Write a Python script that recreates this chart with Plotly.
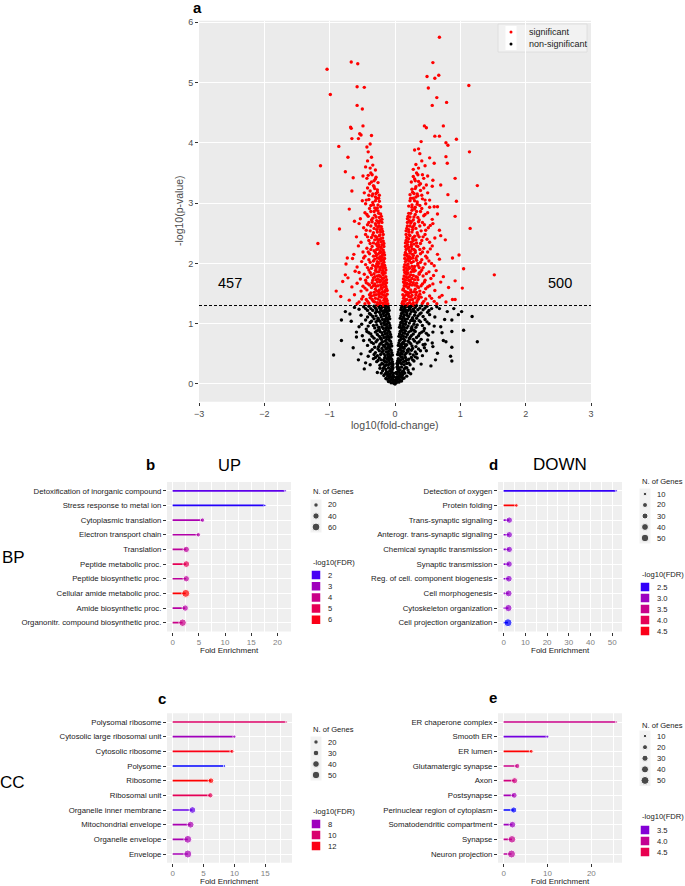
import math
import plotly.graph_objects as go

W, H = 685, 886
FONT = "Liberation Sans, Arial, sans-serif"

# ------------------------------------------------------------------ data
p_threshold = 0.05
n_down_label = "457"
n_up_label = "500"

sig_down = [
    (-0.67, 5.34), (-0.57, 5.31), (-1.04, 5.22), (-0.58, 4.93), (-0.47, 4.92), (-0.99, 4.80),
    (-0.58, 4.62), (-0.50, 4.56), (-0.68, 4.26), (-0.67, 4.24), (-0.49, 4.28), (-0.54, 4.15),
    (-0.52, 4.13), (-0.36, 4.12), (-0.66, 4.07), (-0.56, 4.07), (-0.86, 3.94), (-0.38, 3.98),
    (-1.14, 3.62), (-0.85, 2.57), (-1.18, 2.33), (-0.90, 1.54), (-0.76, 1.81), (-0.73, 2.09),
    (-0.75, 1.99), (-0.76, 3.52), (-0.72, 3.76), (-0.41, 3.85), (-0.43, 3.93), (-0.70, 2.90),
    (-0.66, 3.20), (-0.62, 2.70), (-0.80, 1.70), (-0.83, 1.45), (-0.64, 3.42),
    (-0.11, 1.33), (-0.13, 1.41), (-0.15, 1.36), (-0.17, 1.47), (-0.19, 1.34), (-0.21, 1.44),
    (-0.23, 1.38), (-0.25, 1.49), (-0.27, 1.35), (-0.30, 1.42), (-0.33, 1.37), (-0.36, 1.46),
    (-0.40, 1.34), (-0.44, 1.40), (-0.49, 1.45), (-0.55, 1.36), (-0.62, 1.48), (-0.70, 1.39),
    (-0.12, 1.49), (-0.16, 1.42), (-0.24, 1.32), (-0.29, 1.48), (-0.38, 1.43), (-0.46, 1.33),
    (-0.12, 1.55), (-0.14, 1.62), (-0.16, 1.52), (-0.18, 1.68), (-0.20, 1.58), (-0.22, 1.64),
    (-0.25, 1.53), (-0.27, 1.69), (-0.30, 1.57), (-0.33, 1.63), (-0.37, 1.51), (-0.41, 1.66),
    (-0.46, 1.59), (-0.52, 1.54), (-0.58, 1.67), (-0.66, 1.61), (-0.15, 1.66), (-0.21, 1.51),
    (-0.29, 1.62), (-0.35, 1.68), (-0.43, 1.56),
    (-0.13, 1.73), (-0.15, 1.84), (-0.17, 1.76), (-0.19, 1.88), (-0.21, 1.71), (-0.24, 1.80),
    (-0.26, 1.74), (-0.28, 1.86), (-0.31, 1.78), (-0.34, 1.72), (-0.38, 1.85), (-0.42, 1.77),
    (-0.47, 1.82), (-0.53, 1.74), (-0.61, 1.87), (-0.18, 1.81), (-0.23, 1.89), (-0.32, 1.83),
    (-0.72, 1.76),
    (-0.15, 1.93), (-0.17, 2.02), (-0.19, 1.96), (-0.21, 2.07), (-0.23, 1.91), (-0.25, 2.00),
    (-0.27, 2.09), (-0.30, 1.95), (-0.33, 2.04), (-0.36, 1.92), (-0.40, 2.06), (-0.45, 1.98),
    (-0.51, 2.03), (-0.58, 1.94), (-0.20, 2.10), (-0.28, 1.99), (-0.65, 2.08),
    (-0.16, 2.14), (-0.18, 2.22), (-0.20, 2.12), (-0.22, 2.27), (-0.24, 2.17), (-0.26, 2.24),
    (-0.29, 2.13), (-0.32, 2.21), (-0.35, 2.28), (-0.39, 2.16), (-0.43, 2.25), (-0.49, 2.19),
    (-0.56, 2.29), (-0.21, 2.19), (-0.27, 2.29), (-0.63, 2.15),
    (-0.17, 2.33), (-0.19, 2.42), (-0.21, 2.36), (-0.23, 2.47), (-0.25, 2.31), (-0.27, 2.40),
    (-0.30, 2.45), (-0.33, 2.34), (-0.36, 2.43), (-0.40, 2.38), (-0.45, 2.48), (-0.52, 2.35),
    (-0.24, 2.39), (-0.59, 2.44),
    (-0.19, 2.53), (-0.21, 2.61), (-0.23, 2.56), (-0.25, 2.67), (-0.27, 2.52), (-0.29, 2.63),
    (-0.32, 2.58), (-0.35, 2.69), (-0.38, 2.54), (-0.42, 2.64), (-0.48, 2.59), (-0.26, 2.60),
    (-0.55, 2.66),
    (-0.20, 2.73), (-0.22, 2.82), (-0.24, 2.76), (-0.26, 2.87), (-0.28, 2.71), (-0.31, 2.80),
    (-0.34, 2.75), (-0.37, 2.86), (-0.41, 2.78), (-0.46, 2.84), (-0.53, 2.74), (-0.29, 2.89),
    (-0.22, 2.94), (-0.24, 3.03), (-0.26, 2.97), (-0.28, 3.08), (-0.31, 2.92), (-0.34, 3.01),
    (-0.37, 2.96), (-0.40, 3.06), (-0.45, 2.99), (-0.50, 3.04), (-0.30, 3.10),
    (-0.24, 3.13), (-0.27, 3.22), (-0.29, 3.16), (-0.32, 3.27), (-0.35, 3.12), (-0.38, 3.20),
    (-0.42, 3.25), (-0.47, 3.17), (-0.33, 3.29),
    (-0.26, 3.34), (-0.29, 3.43), (-0.32, 3.37), (-0.35, 3.47), (-0.39, 3.32), (-0.43, 3.41),
    (-0.49, 3.45), (-0.37, 3.50),
    (-0.30, 3.55), (-0.34, 3.63), (-0.38, 3.58), (-0.42, 3.70), (-0.36, 3.76), (-0.45, 3.60),
]

sig_down_core = [
    (-0.12, 1.38), (-0.14, 1.33), (-0.14, 1.46), (-0.17, 1.39), (-0.18, 1.31), (-0.20, 1.49),
    (-0.22, 1.35), (-0.24, 1.45), (-0.26, 1.41), (-0.28, 1.31), (-0.31, 1.36), (-0.32, 1.47),
    (-0.35, 1.40), (-0.39, 1.48), (-0.42, 1.37), (-0.51, 1.41), (-0.58, 1.33),
    (-0.13, 1.58), (-0.13, 1.68), (-0.15, 1.55), (-0.17, 1.61), (-0.19, 1.53), (-0.19, 1.65),
    (-0.21, 1.60), (-0.23, 1.69), (-0.24, 1.56), (-0.26, 1.63), (-0.28, 1.54), (-0.31, 1.66),
    (-0.32, 1.52), (-0.36, 1.60), (-0.39, 1.64), (-0.44, 1.68), (-0.49, 1.62),
    (-0.14, 1.78), (-0.14, 1.89), (-0.16, 1.71), (-0.17, 1.85), (-0.19, 1.75), (-0.20, 1.84),
    (-0.22, 1.78), (-0.23, 1.72), (-0.25, 1.86), (-0.27, 1.79), (-0.29, 1.73), (-0.30, 1.88),
    (-0.33, 1.76), (-0.36, 1.81), (-0.40, 1.89), (-0.45, 1.72), (-0.55, 1.85),
    (-0.16, 1.97), (-0.16, 2.08), (-0.18, 1.92), (-0.18, 2.05), (-0.20, 1.99), (-0.22, 1.94),
    (-0.22, 2.04), (-0.24, 2.08), (-0.26, 1.95), (-0.27, 2.03), (-0.29, 1.91), (-0.31, 2.07),
    (-0.34, 1.97), (-0.38, 2.02), (-0.42, 1.93), (-0.48, 2.09),
    (-0.17, 2.18), (-0.17, 2.28), (-0.19, 2.15), (-0.21, 2.25), (-0.23, 2.11), (-0.23, 2.21),
    (-0.25, 2.28), (-0.27, 2.15), (-0.28, 2.23), (-0.30, 2.18), (-0.33, 2.12), (-0.37, 2.23),
    (-0.41, 2.19), (-0.46, 2.12),
    (-0.18, 2.37), (-0.18, 2.48), (-0.20, 2.31), (-0.22, 2.41), (-0.24, 2.46), (-0.26, 2.35),
    (-0.28, 2.43), (-0.29, 2.32), (-0.31, 2.39), (-0.34, 2.47), (-0.38, 2.33), (-0.42, 2.44),
    (-0.20, 2.57), (-0.20, 2.68), (-0.22, 2.52), (-0.24, 2.62), (-0.26, 2.69), (-0.28, 2.56),
    (-0.30, 2.66), (-0.33, 2.51), (-0.37, 2.62), (-0.40, 2.68), (-0.44, 2.55),
    (-0.21, 2.78), (-0.23, 2.71), (-0.25, 2.83), (-0.27, 2.92), (-0.29, 2.77), (-0.32, 2.86),
    (-0.33, 2.97), (-0.36, 2.72), (-0.39, 2.91), (-0.43, 2.81),
    (-0.25, 3.08), (-0.27, 3.18), (-0.30, 3.04), (-0.31, 3.24), (-0.34, 3.15), (-0.36, 3.35),
    (-0.40, 3.13), (-0.41, 3.46), (-0.44, 3.05), (-0.30, 3.40),
]

sig_up = [
    (0.68, 5.75), (0.58, 5.33), (0.49, 5.10), (0.67, 5.12), (0.61, 5.07), (1.13, 4.95),
    (0.51, 4.91), (0.64, 4.75), (0.79, 4.67), (0.57, 4.62), (0.45, 4.28), (0.48, 4.25),
    (0.74, 4.28), (0.61, 4.11), (0.68, 4.11), (0.94, 4.06), (0.78, 4.00), (0.81, 3.96),
    (1.14, 3.85), (1.26, 3.29), (1.15, 2.58), (1.52, 1.81), (0.98, 2.14), (1.05, 1.91),
    (1.03, 1.59), (0.94, 3.03), (0.92, 3.41), (0.92, 2.78), (0.78, 3.77), (0.80, 3.66),
    (0.70, 3.30), (0.81, 3.14), (0.65, 2.94), (0.77, 2.39), (0.88, 2.09), (0.92, 1.71),
    (0.92, 1.40), (0.40, 4.02), (0.36, 3.90),
    (0.11, 1.34), (0.13, 1.42), (0.15, 1.37), (0.17, 1.48), (0.19, 1.33), (0.21, 1.45),
    (0.23, 1.39), (0.26, 1.47), (0.28, 1.35), (0.31, 1.43), (0.34, 1.38), (0.38, 1.49),
    (0.42, 1.34), (0.47, 1.41), (0.53, 1.46), (0.60, 1.37), (0.68, 1.44), (0.78, 1.36),
    (0.12, 1.48), (0.18, 1.40), (0.25, 1.32), (0.36, 1.45), (0.50, 1.33), (0.88, 1.40),
    (0.12, 1.56), (0.14, 1.63), (0.16, 1.53), (0.18, 1.67), (0.20, 1.59), (0.23, 1.65),
    (0.25, 1.52), (0.28, 1.68), (0.31, 1.57), (0.34, 1.62), (0.38, 1.54), (0.42, 1.66),
    (0.47, 1.58), (0.53, 1.63), (0.61, 1.55), (0.70, 1.69), (0.15, 1.67), (0.22, 1.51),
    (0.30, 1.64), (0.44, 1.52), (0.82, 1.60),
    (0.13, 1.74), (0.15, 1.85), (0.17, 1.77), (0.19, 1.89), (0.21, 1.72), (0.24, 1.81),
    (0.26, 1.75), (0.29, 1.87), (0.32, 1.78), (0.35, 1.73), (0.39, 1.86), (0.43, 1.79),
    (0.48, 1.83), (0.55, 1.75), (0.63, 1.88), (0.18, 1.82), (0.27, 1.90), (0.37, 1.84),
    (0.74, 1.78),
    (0.14, 1.94), (0.16, 2.03), (0.18, 1.97), (0.20, 2.08), (0.22, 1.92), (0.25, 2.01),
    (0.27, 2.09), (0.30, 1.95), (0.33, 2.05), (0.37, 1.93), (0.41, 2.06), (0.46, 1.99),
    (0.52, 2.04), (0.60, 1.96), (0.68, 2.07), (0.23, 2.10), (0.35, 2.00),
    (0.15, 2.14), (0.17, 2.23), (0.19, 2.12), (0.21, 2.27), (0.23, 2.17), (0.26, 2.24),
    (0.28, 2.13), (0.31, 2.21), (0.35, 2.28), (0.39, 2.16), (0.44, 2.25), (0.50, 2.19),
    (0.57, 2.29), (0.65, 2.15), (0.24, 2.20), (0.33, 2.29),
    (0.16, 2.34), (0.18, 2.43), (0.20, 2.36), (0.22, 2.47), (0.25, 2.31), (0.27, 2.41),
    (0.30, 2.45), (0.33, 2.34), (0.37, 2.44), (0.41, 2.38), (0.46, 2.48), (0.53, 2.35),
    (0.61, 2.42), (0.28, 2.38), (0.70, 2.46),
    (0.17, 2.54), (0.19, 2.62), (0.21, 2.56), (0.24, 2.67), (0.26, 2.52), (0.29, 2.63),
    (0.32, 2.58), (0.36, 2.69), (0.40, 2.54), (0.45, 2.64), (0.51, 2.59), (0.58, 2.66),
    (0.27, 2.60), (0.68, 2.55),
    (0.19, 2.74), (0.21, 2.83), (0.23, 2.77), (0.26, 2.88), (0.28, 2.72), (0.31, 2.81),
    (0.35, 2.76), (0.39, 2.86), (0.44, 2.79), (0.50, 2.84), (0.57, 2.73), (0.30, 2.90),
    (0.65, 2.82),
    (0.21, 2.95), (0.23, 3.04), (0.26, 2.97), (0.28, 3.08), (0.31, 2.93), (0.34, 3.02),
    (0.38, 2.96), (0.42, 3.07), (0.47, 2.99), (0.53, 3.05), (0.60, 2.94), (0.32, 3.10),
    (0.23, 3.14), (0.26, 3.23), (0.29, 3.16), (0.32, 3.27), (0.35, 3.12), (0.39, 3.21),
    (0.44, 3.25), (0.50, 3.17), (0.57, 3.28), (0.37, 3.30),
    (0.25, 3.35), (0.28, 3.44), (0.31, 3.37), (0.35, 3.47), (0.39, 3.32), (0.44, 3.41),
    (0.50, 3.45), (0.58, 3.38), (0.33, 3.50),
    (0.28, 3.56), (0.32, 3.64), (0.36, 3.58), (0.41, 3.70), (0.46, 3.62), (0.53, 3.75),
    (0.38, 3.82), (0.60, 3.66), (0.30, 3.88),
]

sig_up_core = [
    (0.12, 1.37), (0.14, 1.32), (0.14, 1.45), (0.16, 1.40), (0.18, 1.31), (0.20, 1.48),
    (0.22, 1.35), (0.24, 1.44), (0.27, 1.40), (0.29, 1.31), (0.32, 1.48), (0.33, 1.35),
    (0.36, 1.41), (0.40, 1.44), (0.44, 1.37), (0.56, 1.42), (0.64, 1.33), (0.72, 1.47),
    (0.13, 1.58), (0.13, 1.69), (0.15, 1.54), (0.17, 1.62), (0.19, 1.52), (0.19, 1.66),
    (0.21, 1.61), (0.24, 1.69), (0.24, 1.56), (0.26, 1.64), (0.29, 1.53), (0.33, 1.67),
    (0.33, 1.52), (0.36, 1.60), (0.40, 1.63), (0.45, 1.69), (0.50, 1.61), (0.58, 1.66),
    (0.14, 1.79), (0.14, 1.89), (0.16, 1.72), (0.17, 1.86), (0.19, 1.76), (0.20, 1.84),
    (0.22, 1.78), (0.23, 1.72), (0.25, 1.86), (0.28, 1.80), (0.30, 1.73), (0.31, 1.88),
    (0.34, 1.77), (0.37, 1.82), (0.41, 1.89), (0.46, 1.72), (0.52, 1.86), (0.59, 1.80),
    (0.15, 1.98), (0.15, 2.08), (0.17, 1.92), (0.18, 2.05), (0.20, 1.99), (0.21, 1.94),
    (0.22, 2.04), (0.24, 2.08), (0.26, 1.95), (0.28, 2.03), (0.29, 1.91), (0.32, 2.08),
    (0.35, 1.97), (0.39, 2.02), (0.43, 1.93), (0.49, 2.09), (0.56, 2.00),
    (0.16, 2.18), (0.16, 2.28), (0.18, 2.15), (0.20, 2.25), (0.22, 2.11), (0.22, 2.21),
    (0.25, 2.28), (0.27, 2.15), (0.29, 2.23), (0.31, 2.18), (0.34, 2.12), (0.38, 2.23),
    (0.42, 2.19), (0.47, 2.12), (0.54, 2.24),
    (0.17, 2.38), (0.17, 2.48), (0.19, 2.31), (0.21, 2.41), (0.23, 2.46), (0.25, 2.35),
    (0.28, 2.43), (0.29, 2.32), (0.32, 2.39), (0.35, 2.47), (0.39, 2.33), (0.43, 2.44),
    (0.49, 2.40),
    (0.18, 2.58), (0.19, 2.68), (0.21, 2.52), (0.23, 2.62), (0.25, 2.69), (0.27, 2.56),
    (0.30, 2.66), (0.34, 2.51), (0.38, 2.62), (0.42, 2.68), (0.47, 2.55), (0.54, 2.63),
    (0.20, 2.78), (0.22, 2.71), (0.24, 2.83), (0.26, 2.93), (0.29, 2.77), (0.33, 2.86),
    (0.34, 2.98), (0.37, 2.72), (0.41, 2.91), (0.46, 2.81), (0.53, 2.93),
    (0.24, 3.08), (0.27, 3.18), (0.30, 3.04), (0.31, 3.24), (0.34, 3.15), (0.36, 3.36),
    (0.41, 3.13), (0.42, 3.47), (0.46, 3.05), (0.30, 3.40), (0.48, 3.30),
]

ns_down = [
    (-0.94, 0.48), (-0.82, 0.72), (-0.82, 1.06), (-0.67, 1.04), (-0.76, 1.20), (-0.69, 1.16),
    (-0.59, 0.86), (-0.59, 0.78), (-0.64, 0.60), (-0.56, 0.40), (-0.47, 0.25), (-0.55, 0.95),
    (-0.62, 1.27), (-0.52, 0.50), (-0.45, 0.35),
    (0.00, 0.00), (-0.01, 0.03), (-0.03, 0.07), (-0.05, 0.11), (-0.08, 0.05), (-0.11, 0.13),
    (-0.14, 0.09), (-0.02, 0.12), (-0.06, 0.02), (-0.17, 0.14),
    (-0.02, 0.18), (-0.04, 0.24), (-0.07, 0.17), (-0.10, 0.27), (-0.13, 0.20), (-0.16, 0.29),
    (-0.19, 0.22), (-0.23, 0.26), (-0.27, 0.19), (-0.05, 0.29), (-0.12, 0.16),
    (-0.03, 0.33), (-0.05, 0.41), (-0.08, 0.35), (-0.11, 0.44), (-0.14, 0.31), (-0.17, 0.39),
    (-0.20, 0.34), (-0.24, 0.43), (-0.28, 0.37), (-0.33, 0.42), (-0.38, 0.32), (-0.07, 0.44),
    (-0.15, 0.37),
    (-0.04, 0.48), (-0.06, 0.56), (-0.09, 0.50), (-0.12, 0.59), (-0.15, 0.47), (-0.18, 0.55),
    (-0.22, 0.49), (-0.26, 0.58), (-0.30, 0.52), (-0.35, 0.57), (-0.41, 0.46), (-0.10, 0.54),
    (-0.20, 0.59),
    (-0.05, 0.63), (-0.07, 0.71), (-0.10, 0.65), (-0.13, 0.74), (-0.16, 0.62), (-0.19, 0.70),
    (-0.23, 0.66), (-0.27, 0.73), (-0.31, 0.61), (-0.36, 0.69), (-0.42, 0.64), (-0.48, 0.72),
    (-0.12, 0.68), (-0.21, 0.74),
    (-0.06, 0.78), (-0.08, 0.86), (-0.11, 0.80), (-0.14, 0.89), (-0.17, 0.77), (-0.20, 0.85),
    (-0.24, 0.79), (-0.28, 0.88), (-0.32, 0.76), (-0.37, 0.83), (-0.43, 0.87), (-0.50, 0.80),
    (-0.15, 0.83), (-0.25, 0.90),
    (-0.07, 0.93), (-0.09, 1.01), (-0.12, 0.95), (-0.15, 1.04), (-0.18, 0.92), (-0.21, 1.00),
    (-0.25, 0.94), (-0.29, 1.03), (-0.33, 0.97), (-0.38, 1.02), (-0.44, 0.91), (-0.51, 0.99),
    (-0.16, 0.98), (-0.27, 1.05),
    (-0.08, 1.08), (-0.10, 1.16), (-0.13, 1.10), (-0.16, 1.19), (-0.19, 1.07), (-0.22, 1.15),
    (-0.26, 1.09), (-0.30, 1.18), (-0.34, 1.12), (-0.39, 1.17), (-0.45, 1.06), (-0.52, 1.14),
    (-0.17, 1.13), (-0.28, 1.20),
    (-0.09, 1.22), (-0.11, 1.29), (-0.14, 1.24), (-0.17, 1.30), (-0.20, 1.21), (-0.24, 1.27),
    (-0.28, 1.23), (-0.32, 1.29), (-0.37, 1.25), (-0.42, 1.22), (-0.48, 1.28), (-0.55, 1.24),
    (-0.21, 1.26),
]

ns_down_core = [
    (-0.02, 0.01), (-0.01, 0.06), (-0.03, 0.03), (-0.04, 0.09), (-0.06, 0.07), (-0.07, 0.13),
    (-0.09, 0.10), (-0.10, 0.04), (-0.12, 0.08), (-0.03, 0.15), (-0.05, 0.20), (-0.08, 0.22),
    (-0.09, 0.15), (-0.11, 0.19), (-0.14, 0.24), (-0.15, 0.17), (-0.18, 0.26), (-0.21, 0.18),
    (-0.06, 0.25), (-0.03, 0.27),
    (-0.04, 0.31), (-0.04, 0.37), (-0.06, 0.34), (-0.09, 0.39), (-0.10, 0.32), (-0.12, 0.41),
    (-0.13, 0.36), (-0.16, 0.43), (-0.18, 0.33), (-0.21, 0.40), (-0.23, 0.31), (-0.26, 0.39),
    (-0.30, 0.44), (-0.09, 0.44),
    (-0.05, 0.52), (-0.07, 0.47), (-0.08, 0.58), (-0.11, 0.49), (-0.13, 0.53), (-0.14, 0.58),
    (-0.17, 0.50), (-0.20, 0.53), (-0.24, 0.55), (-0.27, 0.47), (-0.32, 0.49), (-0.38, 0.54),
    (-0.06, 0.67), (-0.08, 0.62), (-0.09, 0.73), (-0.11, 0.61), (-0.14, 0.66), (-0.15, 0.71),
    (-0.18, 0.64), (-0.21, 0.68), (-0.25, 0.62), (-0.29, 0.70), (-0.33, 0.67), (-0.39, 0.73),
    (-0.07, 0.82), (-0.09, 0.77), (-0.10, 0.88), (-0.12, 0.84), (-0.13, 0.78), (-0.16, 0.87),
    (-0.19, 0.81), (-0.22, 0.76), (-0.23, 0.87), (-0.27, 0.82), (-0.30, 0.86), (-0.35, 0.79),
    (-0.40, 0.85),
    (-0.08, 0.97), (-0.10, 0.92), (-0.11, 1.03), (-0.13, 0.99), (-0.14, 0.93), (-0.17, 1.02),
    (-0.20, 0.95), (-0.23, 1.04), (-0.24, 0.91), (-0.28, 0.98), (-0.31, 0.93), (-0.36, 1.04),
    (-0.41, 0.96),
    (-0.09, 1.12), (-0.11, 1.07), (-0.12, 1.18), (-0.14, 1.14), (-0.15, 1.07), (-0.18, 1.17),
    (-0.21, 1.11), (-0.24, 1.19), (-0.25, 1.06), (-0.29, 1.13), (-0.32, 1.08), (-0.37, 1.15),
    (-0.42, 1.11),
    (-0.10, 1.26), (-0.12, 1.21), (-0.13, 1.30), (-0.15, 1.27), (-0.16, 1.22), (-0.19, 1.28),
    (-0.22, 1.23), (-0.26, 1.30), (-0.30, 1.26), (-0.34, 1.22), (-0.40, 1.29), (-0.45, 1.25),
]

ns_up = [
    (1.26, 0.70), (1.18, 1.12), (1.05, 0.89), (1.02, 1.20), (0.97, 1.15), (0.87, 1.06),
    (0.87, 0.87), (0.87, 0.61), (0.85, 0.46), (0.87, 0.38), (0.78, 0.70), (0.74, 0.72),
    (0.65, 0.51), (0.58, 0.62), (0.76, 1.07), (0.80, 1.20), (0.70, 0.95), (0.68, 1.25),
    (0.72, 0.85), (0.62, 0.40), (0.55, 0.30), (0.90, 1.25),
    (0.01, 0.04), (0.03, 0.08), (0.05, 0.12), (0.08, 0.06), (0.11, 0.14), (0.14, 0.10),
    (0.02, 0.11), (0.06, 0.03), (0.18, 0.13),
    (0.02, 0.19), (0.04, 0.25), (0.07, 0.18), (0.10, 0.28), (0.13, 0.21), (0.16, 0.27),
    (0.20, 0.23), (0.24, 0.17), (0.28, 0.25), (0.05, 0.28), (0.12, 0.16),
    (0.03, 0.34), (0.05, 0.42), (0.08, 0.36), (0.11, 0.45), (0.14, 0.32), (0.18, 0.40),
    (0.21, 0.35), (0.25, 0.44), (0.29, 0.38), (0.34, 0.43), (0.40, 0.33), (0.07, 0.40),
    (0.16, 0.38),
    (0.04, 0.49), (0.06, 0.57), (0.09, 0.51), (0.12, 0.60), (0.15, 0.48), (0.19, 0.56),
    (0.23, 0.50), (0.27, 0.59), (0.31, 0.53), (0.36, 0.58), (0.42, 0.47), (0.48, 0.55),
    (0.10, 0.55), (0.21, 0.58),
    (0.05, 0.64), (0.07, 0.72), (0.10, 0.66), (0.13, 0.75), (0.16, 0.63), (0.20, 0.71),
    (0.24, 0.67), (0.28, 0.74), (0.32, 0.62), (0.37, 0.70), (0.43, 0.65), (0.50, 0.73),
    (0.57, 0.68), (0.12, 0.69), (0.22, 0.75),
    (0.06, 0.79), (0.08, 0.87), (0.11, 0.81), (0.14, 0.90), (0.17, 0.78), (0.21, 0.86),
    (0.25, 0.80), (0.29, 0.89), (0.33, 0.77), (0.38, 0.84), (0.44, 0.88), (0.51, 0.81),
    (0.58, 0.86), (0.15, 0.84), (0.26, 0.90),
    (0.07, 0.94), (0.09, 1.02), (0.12, 0.96), (0.15, 1.05), (0.18, 0.93), (0.22, 1.01),
    (0.26, 0.95), (0.30, 1.04), (0.34, 0.98), (0.39, 1.03), (0.45, 0.92), (0.52, 1.00),
    (0.60, 0.96), (0.16, 0.99), (0.28, 1.05),
    (0.08, 1.09), (0.10, 1.17), (0.13, 1.11), (0.16, 1.20), (0.19, 1.08), (0.23, 1.16),
    (0.27, 1.10), (0.31, 1.19), (0.35, 1.13), (0.40, 1.18), (0.46, 1.07), (0.53, 1.15),
    (0.61, 1.11), (0.18, 1.14), (0.29, 1.21),
    (0.09, 1.23), (0.11, 1.30), (0.14, 1.25), (0.17, 1.29), (0.20, 1.22), (0.24, 1.28),
    (0.28, 1.24), (0.33, 1.30), (0.38, 1.26), (0.43, 1.23), (0.49, 1.29), (0.56, 1.25),
    (0.64, 1.28), (0.22, 1.26),
]

ns_up_core = [
    (0.02, 0.02), (0.01, 0.07), (0.03, 0.05), (0.04, 0.10), (0.06, 0.08), (0.07, 0.14),
    (0.09, 0.11), (0.10, 0.05), (0.12, 0.09), (0.03, 0.16), (0.05, 0.21), (0.08, 0.23),
    (0.09, 0.16), (0.11, 0.20), (0.14, 0.25), (0.15, 0.18), (0.18, 0.27), (0.21, 0.19),
    (0.06, 0.26), (0.03, 0.28),
    (0.04, 0.32), (0.04, 0.38), (0.06, 0.35), (0.09, 0.40), (0.10, 0.33), (0.12, 0.42),
    (0.13, 0.37), (0.16, 0.44), (0.18, 0.34), (0.21, 0.41), (0.23, 0.32), (0.27, 0.40),
    (0.31, 0.45), (0.09, 0.45),
    (0.05, 0.53), (0.07, 0.48), (0.08, 0.59), (0.11, 0.50), (0.13, 0.54), (0.14, 0.59),
    (0.17, 0.51), (0.20, 0.54), (0.25, 0.56), (0.28, 0.48), (0.33, 0.50), (0.39, 0.55),
    (0.45, 0.60),
    (0.06, 0.68), (0.08, 0.63), (0.09, 0.74), (0.11, 0.62), (0.14, 0.67), (0.15, 0.72),
    (0.18, 0.65), (0.22, 0.69), (0.26, 0.63), (0.30, 0.71), (0.34, 0.68), (0.40, 0.74),
    (0.46, 0.66),
    (0.07, 0.83), (0.09, 0.78), (0.10, 0.89), (0.12, 0.85), (0.13, 0.79), (0.16, 0.88),
    (0.19, 0.82), (0.23, 0.77), (0.24, 0.88), (0.28, 0.83), (0.31, 0.87), (0.36, 0.80),
    (0.41, 0.86), (0.48, 0.84),
    (0.08, 0.98), (0.10, 0.93), (0.11, 1.04), (0.13, 1.00), (0.14, 0.94), (0.17, 1.03),
    (0.20, 0.96), (0.24, 1.05), (0.25, 0.92), (0.29, 0.99), (0.32, 0.94), (0.37, 1.05),
    (0.42, 0.97), (0.49, 1.03),
    (0.09, 1.13), (0.11, 1.08), (0.12, 1.19), (0.14, 1.15), (0.15, 1.08), (0.18, 1.18),
    (0.21, 1.12), (0.25, 1.20), (0.26, 1.07), (0.30, 1.14), (0.33, 1.09), (0.38, 1.16),
    (0.43, 1.12), (0.50, 1.19),
    (0.10, 1.27), (0.12, 1.22), (0.13, 1.31), (0.15, 1.28), (0.16, 1.23), (0.19, 1.29),
    (0.23, 1.24), (0.27, 1.30), (0.31, 1.27), (0.35, 1.23), (0.41, 1.30), (0.46, 1.26),
    (0.52, 1.22),
]

# GO enrichment panels
bp_up_terms = ["Detoxification of inorganic compound", "Stress response to metal ion",
               "Cytoplasmic translation", "Electron transport chain", "Translation",
               "Peptide metabolic proc.", "Peptide biosynthetic proc.",
               "Cellular amide metabolic proc.", "Amide biosynthetic proc.",
               "Organonitr. compound biosynthetic proc."]
bp_up_fe = [21.5, 17.6, 5.7, 4.9, 2.6, 2.6, 2.6, 2.5, 2.4, 1.9]
bp_up_genes = [5, 6, 20, 20, 40, 45, 40, 62, 40, 55]
bp_up_fdr = [2.15, 1.85, 3.25, 3.4, 3.65, 5.0, 3.65, 6.2, 3.5, 4.0]

bp_down_terms = ["Detection of oxygen", "Protein folding", "Trans-synaptic signaling",
                 "Anterogr. trans-synaptic signaling", "Chemical synaptic transmission",
                 "Synaptic transmission", "Reg. of cell. component biogenesis",
                 "Cell morphogenesis", "Cytoskeleton organization",
                 "Cell projection organization"]
bp_down_fe = [51.9, 5.9, 2.6, 2.6, 2.6, 2.5, 2.4, 2.3, 2.2, 2.0]
bp_down_genes = [3, 10, 35, 35, 34, 36, 38, 40, 45, 55]
bp_down_fdr = [2.5, 4.6, 2.9, 2.9, 2.9, 2.9, 2.9, 2.95, 2.95, 2.45]

cc_up_terms = ["Polysomal ribosome", "Cytosolic large ribosomal unit", "Cytosolic ribosome",
               "Polysome", "Ribosome", "Ribosomal unit", "Organelle inner membrane",
               "Mitochondrial envelope", "Organelle envelope", "Envelope"]
cc_up_fe = [18.4, 10.0, 9.6, 8.4, 6.2, 6.1, 3.2, 2.9, 2.45, 2.45]
cc_up_genes = [7, 12, 18, 8, 30, 27, 40, 42, 52, 54]
cc_up_fdr = [10.2, 8.06, 12.0, 6.46, 12.2, 10.6, 7.0, 8.3, 8.3, 8.2]

cc_down_terms = ["ER chaperone complex", "Smooth ER", "ER lumen", "Glutamatergic synapse",
                 "Axon", "Postsynapse", "Perinuclear region of cytoplasm",
                 "Somatodendritic compartment", "Synapse", "Neuron projection"]
cc_down_fe = [25.7, 10.0, 6.3, 3.1, 2.5, 2.4, 2.3, 2.0, 1.9, 1.8]
cc_down_genes = [4, 7, 12, 22, 30, 28, 30, 35, 45, 50]
cc_down_fdr = [4.07, 3.43, 4.93, 4.07, 4.15, 3.73, 3.21, 3.67, 4.02, 3.93]

# ------------------------------------------------------------------ helpers
def px_x(p):
    return p / W


def px_y(p):
    return 1 - p / H


def _lin(c):
    c = c / 255.0
    return c / 12.92 if c <= 0.04045 else ((c + 0.055) / 1.055) ** 2.4


def _gam(c):
    c = max(0.0, min(1.0, c))
    c = 12.92 * c if c <= 0.0031308 else 1.055 * c ** (1 / 2.4) - 0.055
    return int(round(c * 255))


def rgb2lab(rgb):
    r, g, b = [_lin(v) for v in rgb]
    X = (0.4124 * r + 0.3576 * g + 0.1805 * b) / 0.95047
    Y = 0.2126 * r + 0.7152 * g + 0.0722 * b
    Z = (0.0193 * r + 0.1192 * g + 0.9505 * b) / 1.08883
    f = lambda t: t ** (1 / 3) if t > 0.008856 else 7.787 * t + 16 / 116
    fx, fy, fz = f(X), f(Y), f(Z)
    return (116 * fy - 16, 500 * (fx - fy), 200 * (fy - fz))


def lab2rgb(L, a, b):
    fy = (L + 16) / 116
    fx = fy + a / 500
    fz = fy - b / 200
    finv = lambda t: t ** 3 if t ** 3 > 0.008856 else (t - 16 / 116) / 7.787
    X = finv(fx) * 0.95047
    Y = finv(fy)
    Z = finv(fz) * 1.08883
    r = 3.2406 * X - 1.5372 * Y - 0.4986 * Z
    g = -0.9689 * X + 1.8758 * Y + 0.0415 * Z
    bb = 0.0557 * X - 0.2040 * Y + 1.0570 * Z
    return "rgb(%d,%d,%d)" % (_gam(r), _gam(g), _gam(bb))


LOW = rgb2lab((0, 0, 255))
HIGH = rgb2lab((255, 0, 0))


def grad(v, lo, hi):
    t = (v - lo) / (hi - lo)
    t = max(0.0, min(1.0, t))
    return lab2rgb(*[LOW[i] + (HIGH[i] - LOW[i]) * t for i in range(3)])


def dia(n, lo, hi):
    t = (math.sqrt(n) - math.sqrt(lo)) / (math.sqrt(hi) - math.sqrt(lo))
    return max(1.8, 2.2 + t * 5.8)


fig = go.Figure()
layout = dict(width=W, height=H, margin=dict(l=0, r=0, t=0, b=0),
              paper_bgcolor="white", plot_bgcolor="white", showlegend=False,
              font=dict(family=FONT, color="#333333"))
shapes = []
annotations = []


def ann(text, x, y, size, bold=False, xanchor="center", color="#1a1a1a", angle=0,
        xref="paper", yref="paper"):
    if xref == "paper":
        x = px_x(x)
    if yref == "paper":
        y = px_y(y)
    annotations.append(dict(text=("<b>%s</b>" % text) if bold else text, x=x, y=y,
                            xref=xref, yref=yref, xanchor=xanchor, yanchor="middle",
                            showarrow=False, textangle=angle,
                            font=dict(size=size, color=color, family=FONT)))


def panel_bg(k, color):
    shapes.append(dict(type="rect", xref="x%s domain" % k, yref="y%s domain" % k,
                       x0=0, x1=1, y0=0, y1=1, fillcolor=color, line=dict(width=0),
                       layer="below"))


axis_id = [6]


def legend_axis(key_x, top, n, step, width=11):
    k = axis_id[0]
    axis_id[0] += 1
    layout["xaxis%d" % k] = dict(domain=[px_x(key_x - width / 2), px_x(key_x + width / 2)],
                                 range=[-1, 1], visible=False, fixedrange=True,
                                 anchor="y%d" % k)
    layout["yaxis%d" % k] = dict(domain=[px_y(top + n * step), px_y(top)],
                                 range=[n - 0.5, -0.5], visible=False, fixedrange=True,
                                 anchor="x%d" % k)
    return k


# ------------------------------------------------------------------ volcano
thr = -math.log10(p_threshold)
layout["xaxis"] = dict(domain=[px_x(199), px_x(591)], range=[-3, 3], dtick=1, tick0=0,
                       showgrid=True, gridcolor="white", gridwidth=1.1, zeroline=False,
                       ticks="outside", ticklen=3, tickcolor="#333333", tickwidth=1,
                       tickfont=dict(size=9, color="#4D4D4D"), anchor="y", automargin=False)
layout["yaxis"] = dict(domain=[px_y(401.7), px_y(20.7)], range=[-0.294, 6.025], dtick=1,
                       tick0=0, showgrid=True, gridcolor="white", gridwidth=1.1,
                       zeroline=False, ticks="outside", ticklen=3, tickcolor="#333333",
                       tickwidth=1, tickfont=dict(size=9, color="#4D4D4D"), anchor="x",
                       automargin=False)
panel_bg("", "#EBEBEB")

ns_pts = ns_down + ns_down_core + ns_up + ns_up_core
sig_pts = sig_down + sig_down_core + sig_up + sig_up_core
fig.add_trace(go.Scatter(x=[p[0] for p in ns_pts], y=[p[1] for p in ns_pts], mode="markers",
                         marker=dict(color="black", size=3.4), xaxis="x", yaxis="y",
                         hoverinfo="skip"))
fig.add_trace(go.Scatter(x=[p[0] for p in sig_pts], y=[p[1] for p in sig_pts], mode="markers",
                         marker=dict(color="#FF0000", size=3.4), xaxis="x", yaxis="y",
                         hoverinfo="skip"))
shapes.append(dict(type="line", xref="x domain", yref="y", x0=0, x1=1, y0=thr, y1=thr,
                   line=dict(color="black", width=1, dash="3px,2px")))
ann(n_down_label, -2.52, 1.67, 14.5, xref="x", yref="y", color="black")
ann(n_up_label, 2.53, 1.67, 14.5, xref="x", yref="y", color="black")
ann("a", 197, 8, 15, bold=True, color="black")
ann("-log10(p-value)", 179, 211, 10.5, angle=-90, color="#4D4D4D")
ann("log10(fold-change)", 395, 425, 10.5, color="#4D4D4D")

# volcano legend
shapes.append(dict(type="rect", xref="paper", yref="paper", x0=px_x(498), x1=px_x(587),
                   y0=px_y(52), y1=px_y(24), fillcolor="#F2F2F2",
                   line=dict(color="#DADADA", width=0.8), layer="between"))
vk = legend_axis(511, 26, 2, 12)
fig.add_trace(go.Scatter(x=[0, 0], y=[0, 1], mode="markers",
                         marker=dict(color=["#FF0000", "black"], size=3),
                         xaxis="x%d" % vk, yaxis="y%d" % vk, hoverinfo="skip"))
ann("significant", 527, 32, 9, xanchor="left", color="#1a1a1a")
ann("non-significant", 527, 44, 9, xanchor="left", color="#1a1a1a")

# ------------------------------------------------------------------ lollipops
panels = [
    dict(k=2, terms=bp_up_terms, fe=bp_up_fe, genes=bp_up_genes, fdr=bp_up_fdr, dtick=5,
         box=(167, 291, 482, 631.5), sizes=[20, 40, 60], colors=[2, 3, 4, 5, 6],
         clabels=["2", "3", "4", "5", "6"], legx=311,
         s_title=492, s_top=499.5, s_step=11, c_title=562, c_top=569.4, c_step=11.2,
         titley=650, glo=5, ghi=62, flo=1.8, fhi=6.2),
    dict(k=3, terms=bp_down_terms, fe=bp_down_fe, genes=bp_down_genes, fdr=bp_down_fdr,
         dtick=10, box=(498, 622, 482, 631.5), sizes=[10, 20, 30, 40, 50],
         colors=[2.5, 3.0, 3.5, 4.0, 4.5], clabels=["2.5", "3.0", "3.5", "4.0", "4.5"],
         legx=640, s_title=481, s_top=488.5, s_step=11, c_title=574, c_top=581.5, c_step=11,
         titley=650, glo=3, ghi=55, flo=2.45, fhi=4.6),
    dict(k=4, terms=cc_up_terms, fe=cc_up_fe, genes=cc_up_genes, fdr=cc_up_fdr, dtick=5,
         box=(167, 292, 713.2, 862.8), sizes=[20, 30, 40, 50], colors=[8, 10, 12],
         clabels=["8", "10", "12"], legx=311,
         s_title=729, s_top=736.5, s_step=11, c_title=811, c_top=818.5, c_step=11,
         titley=881, glo=7, ghi=54, flo=6.46, fhi=12.2),
    dict(k=5, terms=cc_down_terms, fe=cc_down_fe, genes=cc_down_genes, fdr=cc_down_fdr,
         dtick=10, box=(498, 622, 713.2, 862.8), sizes=[10, 20, 30, 40, 50],
         colors=[3.5, 4.0, 4.5], clabels=["3.5", "4.0", "4.5"], legx=640,
         s_title=725, s_top=730.5, s_step=11.1, c_title=816, c_top=824.5, c_step=11,
         titley=881, glo=4, ghi=50, flo=3.21, fhi=4.93),
]

for P in panels:
    k = P["k"]
    n = len(P["terms"])
    hi = max(P["fe"])
    exp = 0.05 * hi
    x0, x1, yt, yb = P["box"]
    layout["xaxis%d" % k] = dict(domain=[px_x(x0), px_x(x1)], range=[-exp, hi + exp],
                                 dtick=P["dtick"], tick0=0, showgrid=True, gridcolor="white",
                                 gridwidth=1.1, zeroline=False, ticks="outside", ticklen=3,
                                 tickcolor="#333333", tickwidth=1,
                                 tickfont=dict(size=8, color="#7F7F7F"),
                                 minor=dict(dtick=P["dtick"] / 2, showgrid=True,
                                            gridcolor="white", gridwidth=0.55),
                                 anchor="y%d" % k, automargin=False)
    layout["yaxis%d" % k] = dict(domain=[px_y(yb), px_y(yt)], type="category",
                                 categoryorder="array", categoryarray=P["terms"],
                                 range=[n - 1 + 0.6, -0.6], showgrid=True, gridcolor="white",
                                 gridwidth=1.1, zeroline=False, ticks="outside", ticklen=3,
                                 tickcolor="#333333", tickwidth=1,
                                 tickfont=dict(size=7.8, color="#1a1a1a"),
                                 anchor="x%d" % k, automargin=False)
    panel_bg(k, "#EFEFEF")
    cols = [grad(v, P["flo"], P["fhi"]) for v in P["fdr"]]
    for term, v, c in zip(P["terms"], P["fe"], cols):
        fig.add_trace(go.Scatter(x=[0, v], y=[term, term], mode="lines",
                                 line=dict(color=c, width=1.7), xaxis="x%d" % k,
                                 yaxis="y%d" % k, hoverinfo="skip"))
    fig.add_trace(go.Scatter(x=P["fe"], y=P["terms"], mode="markers",
                             marker=dict(color=cols,
                                         size=[dia(g, P["glo"], P["ghi"]) for g in P["genes"]]),
                             xaxis="x%d" % k, yaxis="y%d" % k, hoverinfo="skip"))
    ann("Fold Enrichment", (x0 + x1) / 2, P["titley"], 8, color="#1a1a1a")

    keyx = P["legx"] + 5
    txtx = P["legx"] + 15
    # size legend
    ann("N. of Genes", P["legx"], P["s_title"], 7.6, xanchor="left")
    sk = legend_axis(keyx, P["s_top"], len(P["sizes"]), P["s_step"])
    shapes.append(dict(type="rect", xref="x%d domain" % sk, yref="y%d domain" % sk,
                       x0=0, x1=1, y0=0, y1=1, fillcolor="#F2F2F2", line=dict(width=0),
                       layer="below"))
    fig.add_trace(go.Scatter(x=[0] * len(P["sizes"]), y=list(range(len(P["sizes"]))),
                             mode="markers",
                             marker=dict(color="black",
                                         size=[dia(g, P["glo"], P["ghi"]) for g in P["sizes"]]),
                             xaxis="x%d" % sk, yaxis="y%d" % sk, hoverinfo="skip"))
    for i, s in enumerate(P["sizes"]):
        ann(str(s), txtx, P["s_top"] + (i + 0.5) * P["s_step"], 7.6, xanchor="left")
    # colour legend
    ann("-log10(FDR)", P["legx"], P["c_title"], 7.6, xanchor="left")
    ck = legend_axis(keyx, P["c_top"], len(P["colors"]), P["c_step"])
    fig.add_trace(go.Scatter(x=[0] * len(P["colors"]), y=list(range(len(P["colors"]))),
                             mode="markers",
                             marker=dict(color=[grad(v, P["flo"], P["fhi"]) for v in P["colors"]],
                                         size=8.5, symbol="square"),
                             xaxis="x%d" % ck, yaxis="y%d" % ck, hoverinfo="skip"))
    for i, lab in enumerate(P["clabels"]):
        ann(lab, txtx, P["c_top"] + (i + 0.5) * P["c_step"], 7.6, xanchor="left")

# panel labels
ann("b", 150, 465, 15, bold=True, color="black")
ann("UP", 229, 465, 16.5, color="black")
ann("d", 493, 465, 15, bold=True, color="black")
ann("DOWN", 560, 465, 17, color="black")
ann("c", 162, 698, 15, bold=True, color="black")
ann("e", 493, 697, 15, bold=True, color="black")
ann("BP", 13, 557, 17, color="black")
ann("CC", 12, 782, 17, color="black")

layout["shapes"] = shapes
layout["annotations"] = annotations
fig.update_layout(**layout)
fig.write_html("out.html", config={"displayModeBar": False},
               post_script="document.body.style.margin='0px';document.body.style.padding='0px';")
